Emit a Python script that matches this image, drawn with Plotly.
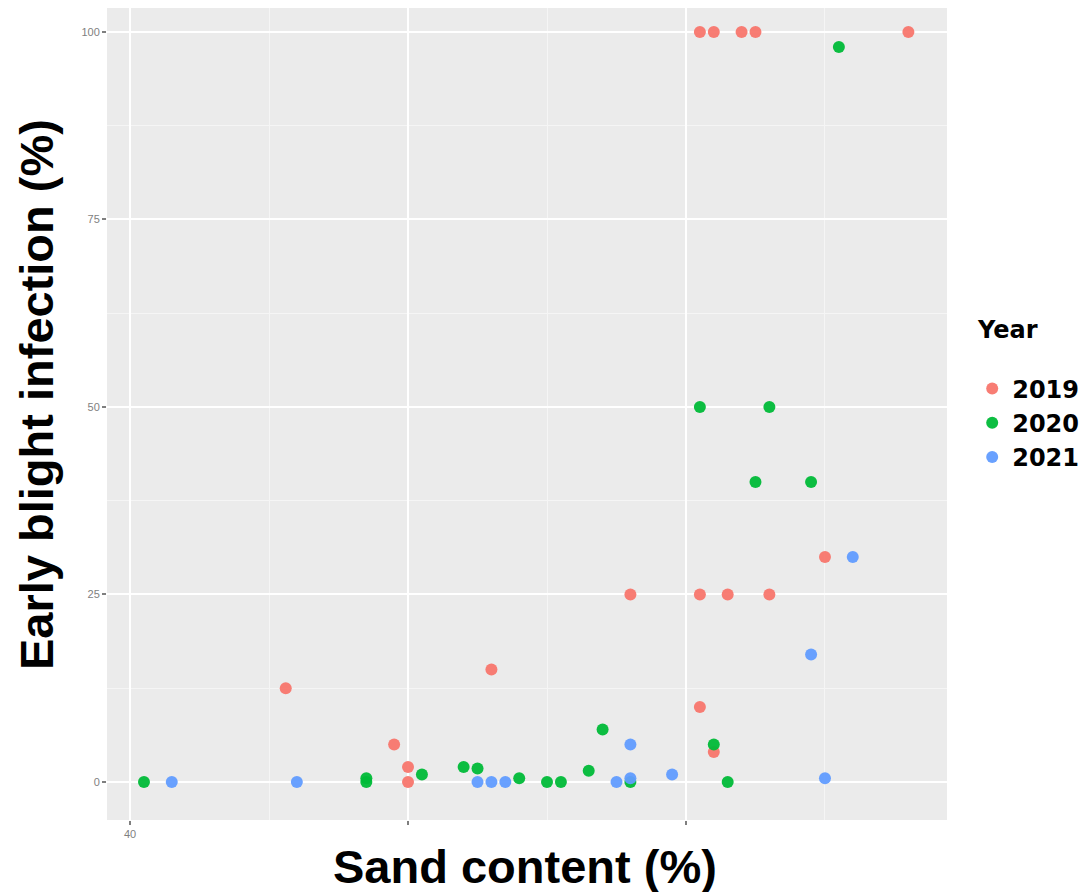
import plotly.graph_objects as go

# Data
sand_2019 = [45.6, 49.5, 50.0, 50.0, 53.0, 58.0, 60.5, 61.0, 62.0, 62.5, 68.0, 60.5, 61.5, 63.0, 60.5, 61.0, 65.0]
inf_2019 = [12.5, 5, 2, 0, 15, 25, 100, 100, 100, 100, 100, 25, 25, 25, 10, 4, 30]

sand_2020 = [40.5, 48.5, 48.5, 50.5, 52.0, 52.5, 54.0, 55.0, 55.5, 56.5, 57.0, 58.0, 60.5, 61.0, 61.5, 62.5, 63.0, 64.5, 65.5]
inf_2020 = [0, 0.5, 0, 1, 2, 1.8, 0.5, 0, 0, 1.5, 7, 0, 50, 5, 0, 40, 50, 40, 98]

sand_2021 = [41.5, 46.0, 52.5, 53.0, 53.5, 57.5, 58.0, 58.0, 59.5, 64.5, 65.0, 66.0]
inf_2021 = [0, 0, 0, 0, 0, 0, 0.5, 5, 1, 17, 0.5, 30]

years = ["2019", "2020", "2021"]
colors = ["#F8766D", "#00BA38", "#619CFF"]
xs = [sand_2019, sand_2020, sand_2021]
ys = [inf_2019, inf_2020, inf_2021]

x_tickvals = [40, 50, 60]
x_ticktext = ["40", "", ""]
y_tickvals = [0, 25, 50, 75, 100]

fig = go.Figure()
for yr, c, x, y in zip(years, colors, xs, ys):
    fig.add_trace(go.Scatter(
        x=x, y=y, mode="markers", name=f"<b>{yr}</b>",
        marker=dict(color=c, size=12, opacity=0.95, line=dict(width=0)),
    ))

fig.add_annotation(
    text="<b>Year</b>", xref="paper", yref="paper",
    x=1.0333, y=0.603, xanchor="left", yanchor="middle",
    showarrow=False, font=dict(size=24, color="black", family="DejaVu Sans"),
)
fig.add_annotation(
    text="<b>Sand content (%)</b>", xref="paper", yref="paper",
    x=0.4976, y=-0.0567, xanchor="center", yanchor="middle",
    showarrow=False, font=dict(size=47, color="black"),
)
fig.add_annotation(
    text="<b>Early blight infection (%)</b>", xref="paper", yref="paper",
    x=-0.0833, y=0.5234, xanchor="center", yanchor="middle", textangle=-90,
    showarrow=False, font=dict(size=47, color="black"),
)

fig.update_layout(
    width=1081, height=892,
    margin=dict(l=107, r=134, t=8, b=72, autoexpand=False),
    paper_bgcolor="white",
    plot_bgcolor="#EBEBEB",
    font=dict(family="Liberation Sans, Arial, sans-serif", color="black"),
    legend=dict(
        font=dict(size=24, family="DejaVu Sans"),
        x=1.030, xanchor="left", y=0.489, yanchor="middle",
        tracegroupgap=0,
        bgcolor="rgba(0,0,0,0)",
    ),
    xaxis=dict(
        range=[39.17, 69.39],
        tickvals=x_tickvals, ticktext=x_ticktext,
        showgrid=True, gridcolor="white", gridwidth=2,
        zeroline=False,
        ticks="outside", ticklen=4, tickcolor="#7F7F7F", tickwidth=1.5,
        tickfont=dict(size=11, color="#7F7F7F"),
        minor=dict(tickvals=[45, 55, 65], showgrid=True, gridcolor="#F5F5F5", gridwidth=1, ticks=""),
        showline=False,
    ),
    yaxis=dict(
        range=[-5.07, 103.2],
        tickvals=y_tickvals,
        showgrid=True, gridcolor="white", gridwidth=2,
        zeroline=False,
        ticks="outside", ticklen=4, tickcolor="#7F7F7F", tickwidth=1.5,
        tickfont=dict(size=11, color="#7F7F7F"),
        minor=dict(tickvals=[12.5, 37.5, 62.5, 87.5], showgrid=True, gridcolor="#F5F5F5", gridwidth=1, ticks=""),
        showline=False,
    ),
)

fig.write_html("out.html")
